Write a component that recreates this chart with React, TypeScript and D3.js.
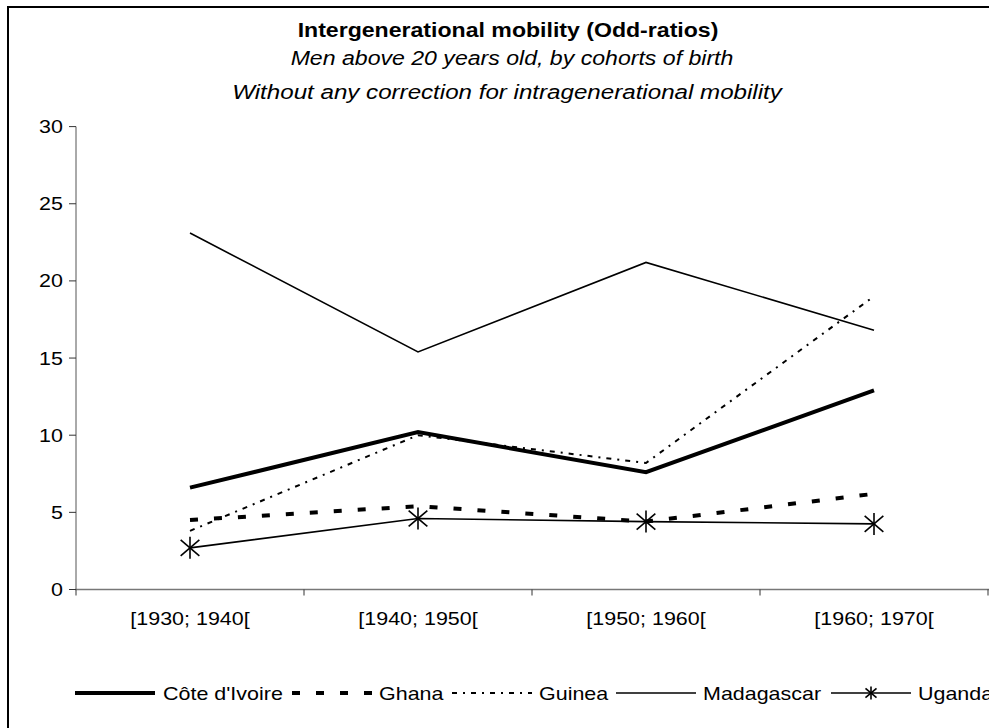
import React from "react";
import * as d3 from "d3";

const categories = ["[1930; 1940[", "[1940; 1950[", "[1950; 1960[", "[1960; 1970["];
const seriesNames = ["Côte d'Ivoire", "Ghana", "Guinea", "Madagascar", "Uganda"];
const coteDIvoire = [6.6, 10.2, 7.6, 12.9];
const ghana = [4.5, 5.4, 4.4, 6.2];
const guinea = [3.8, 10.0, 8.2, 19.0];
const madagascar = [23.1, 15.4, 21.2, 16.8];
const uganda = [2.7, 4.6, 4.4, 4.25];
const yTicks = [0, 5, 10, 15, 20, 25, 30];

const titleText = "Intergenerational mobility (Odd-ratios)";
const subtitle1 = "Men above 20 years old, by cohorts of birth";
const subtitle2 = "Without any correction for intragenerational mobility";

const FONT = "'Liberation Sans', Arial, sans-serif";

type Style = { width: number; dash?: string; star?: boolean };
const styles: Style[] = [
  { width: 4 },
  { width: 4, dash: "8,16" },
  { width: 2, dash: "5,6,2,6" },
  { width: 1.6 },
  { width: 1.6, star: true },
];

function T({
  x,
  y,
  sx = 1.13,
  size = 19,
  anchor = "start",
  weight,
  italic,
  children,
}: {
  x: number;
  y: number;
  sx?: number;
  size?: number;
  anchor?: string;
  weight?: string;
  italic?: boolean;
  children: React.ReactNode;
}) {
  return (
    <text
      transform={`translate(${x},${y}) scale(${sx},1)`}
      textAnchor={anchor}
      fontSize={size}
      fontWeight={weight}
      fontStyle={italic ? "italic" : undefined}
      fill="#000"
    >
      {children}
    </text>
  );
}

function Star({ x, y, r }: { x: number; y: number; r: number }) {
  const d = r * 0.85;
  return (
    <g stroke="#000" strokeWidth={1.6}>
      <line x1={x} y1={y - r} x2={x} y2={y + r} />
      <line x1={x - d} y1={y - d * 0.85} x2={x + d} y2={y + d * 0.85} />
      <line x1={x - d} y1={y + d * 0.85} x2={x + d} y2={y - d * 0.85} />
    </g>
  );
}

export default function App() {
  const W = 989, H = 728;
  const left = 76, right = 988, top = 126.6, bottom = 589.5;
  const x = d3.scaleBand<string>().domain(categories).range([left, right]).padding(0);
  const y = d3.scaleLinear().domain([0, 30]).range([bottom, top]);
  const cx = (c: string) => (x(c) as number) + x.bandwidth() / 2;
  const data = [coteDIvoire, ghana, guinea, madagascar, uganda];
  const line = d3
    .line<number>()
    .x((_, i) => cx(categories[i]))
    .y((v) => y(v));

  const boundaries = categories.map((c) => x(c) as number).concat([right]);

  // legend layout
  const legendY = 693;
  const legendItems = [
    { lx: 75, tx: 163 },
    { lx: 292, tx: 379 },
    { lx: 452, tx: 539 },
    { lx: 616, tx: 703 },
    { lx: 831, tx: 918 },
  ];
  const sampleLen = 80;

  return (
    <svg
      width={W}
      height={H}
      style={{ position: "absolute", left: 0, top: 0, background: "#fff" }}
      fontFamily={FONT}
    >
      <rect x={0} y={0} width={W} height={H} fill="#fff" />
      <rect x={8} y={7} width={1100} height={900} fill="none" stroke="#000" strokeWidth={2} />

      <T x={508} y={37} size={21} sx={1.1} anchor="middle" weight="bold">
        {titleText}
      </T>
      <T x={512} y={65} size={21} sx={1.1} anchor="middle" italic>
        {subtitle1}
      </T>
      <T x={507} y={99} size={21} sx={1.15} anchor="middle" italic>
        {subtitle2}
      </T>

      {/* axes */}
      <line x1={left} y1={top} x2={left} y2={bottom} stroke="#555" strokeWidth={1} />
      <line x1={left - 1} y1={bottom} x2={right + 2} y2={bottom} stroke="#777" strokeWidth={1.5} />
      {yTicks.map((t) => (
        <g key={t}>
          <line x1={left - 7} x2={left} y1={y(t)} y2={y(t)} stroke="#333" />
          <T x={63} y={y(t) + 6.5} anchor="end">
            {t}
          </T>
        </g>
      ))}
      {boundaries.map((b, i) => (
        <line key={i} x1={b} x2={b} y1={bottom} y2={bottom + 6} stroke="#333" />
      ))}
      {categories.map((c) => (
        <T key={c} x={cx(c)} y={625} anchor="middle">
          {c}
        </T>
      ))}

      {/* series */}
      {data.map((vals, si) => (
        <path
          key={si}
          d={line(vals) || ""}
          fill="none"
          stroke="#000"
          strokeWidth={styles[si].width}
          strokeDasharray={styles[si].dash}
          strokeLinejoin="miter"
        />
      ))}
      {uganda.map((v, i) => (
        <Star key={i} x={cx(categories[i])} y={y(v)} r={11} />
      ))}

      {/* legend */}
      {legendItems.map((it, i) => (
        <g key={i}>
          <line
            x1={it.lx}
            x2={it.lx + sampleLen}
            y1={legendY}
            y2={legendY}
            stroke="#000"
            strokeWidth={styles[i].width}
            strokeDasharray={styles[i].dash}
          />
          {styles[i].star && <Star x={it.lx + sampleLen / 2} y={legendY} r={6.5} />}
          <T x={it.tx} y={legendY + 7}>
            {seriesNames[i]}
          </T>
        </g>
      ))}
    </svg>
  );
}
